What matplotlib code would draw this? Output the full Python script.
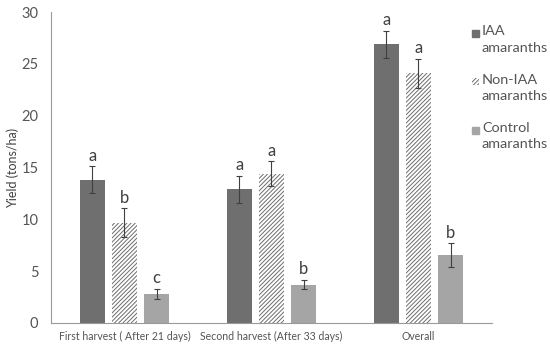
import numpy as np
import matplotlib.pyplot as plt
from matplotlib.patches import Rectangle

plt.rcParams['font.family'] = ['Lato', 'DejaVu Sans']
plt.rcParams['hatch.color'] = '#6d6d6d'
plt.rcParams['hatch.linewidth'] = 0.7

categories = ['First harvest ( After 21 days)', 'Second harvest (After 33 days)', 'Overall']
series = ['IAA\namaranths', 'Non-IAA\namaranths', 'Control\namaranths']
iaa = [13.8, 12.9, 26.9]
non_iaa = [9.65, 14.4, 24.1]
control = [2.8, 3.7, 6.55]
iaa_err = [1.3, 1.3, 1.3]
non_iaa_err = [1.4, 1.2, 1.4]
control_err = [0.5, 0.45, 1.15]
iaa_letters = ['a', 'a', 'a']
non_iaa_letters = ['b', 'a', 'a']
control_letters = ['c', 'b', 'b']

W, H = 550, 349
fig = plt.figure(figsize=(5.5, 3.49), dpi=100)
ax = fig.add_axes([0.0927, 0.0745, 0.8018, 0.8911])

x = np.arange(len(categories))
w = 0.172
step = 0.218
styles = [
    dict(color='#6f6f6f'),
    dict(facecolor='white', edgecolor='#6d6d6d', hatch='////////', linewidth=0),
    dict(color='#a5a5a5'),
]
data = [(iaa, iaa_err, iaa_letters), (non_iaa, non_iaa_err, non_iaa_letters),
        (control, control_err, control_letters)]

for i, ((vals, errs, letters), st) in enumerate(zip(data, styles)):
    pos = x + (i - 1) * step
    ax.bar(pos, vals, width=w, **st)
    ax.errorbar(pos, vals, yerr=errs, fmt='none', ecolor='#404040',
                elinewidth=0.8, capsize=2.5, capthick=0.8)
    for p, v, e, l in zip(pos, vals, errs, letters):
        ax.text(p, v + e + 0.25, l, ha='center', va='bottom', fontsize=12, color='#404040')

ax.set_xlim(-0.5, 2.5)
ax.set_ylim(0, 30)
ax.set_yticks(range(0, 31, 5))
ax.set_xticks(x)
ax.set_xticklabels(categories, fontsize=7.6, color='#555555')
ax.tick_params(axis='y', length=0, labelsize=10.5, labelcolor='#555555', pad=9)
ax.tick_params(axis='x', length=0, pad=6)
ax.set_ylabel('Yield (tons/ha)', fontsize=9, color='#404040', labelpad=2)
for s in ['top', 'right']:
    ax.spines[s].set_visible(False)
ax.spines['left'].set_color('#9a9a9a')
ax.spines['bottom'].set_color('#9a9a9a')

# legend drawn by hand: square next to first line of each two-line label
for i, (lab, st) in enumerate(zip(series, styles)):
    yc = 33 + i * 48.5
    fig.add_artist(Rectangle((472 / W, 1 - (yc + 3.5) / H), 7 / W, 7 / H,
                             transform=fig.transFigure, **st))
    fig.text(482 / W, 1 - (yc - 8) / H, lab, ha='left', va='top', fontsize=10.4,
             color='#555555', linespacing=1.45)

fig.savefig('out.png', dpi=100)
